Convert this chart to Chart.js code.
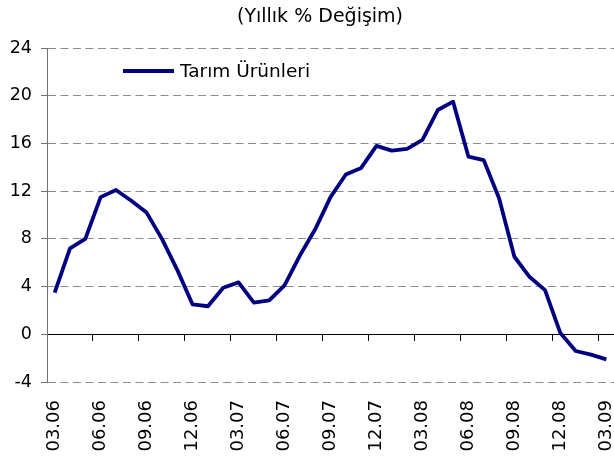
<!DOCTYPE html>
<html>
<head>
<meta charset="utf-8">
<script src="https://cdn.jsdelivr.net/npm/chart.js@4"></script>
<style>
html,body{margin:0;padding:0;background:#fff;}
#wrap{width:614px;height:456px;position:relative;}
</style>
</head>
<body>
<div id="wrap"><canvas id="c" width="614" height="456"></canvas></div>
<script>
const titleText = "(Yıllık % Değişim)";
const seriesName = "Tarım Ürünleri";
const months = ["03.06","04.06","05.06","06.06","07.06","08.06","09.06","10.06","11.06","12.06",
  "01.07","02.07","03.07","04.07","05.07","06.07","07.07","08.07","09.07","10.07","11.07","12.07",
  "01.08","02.08","03.08","04.08","05.08","06.08","07.08","08.08","09.08","10.08","11.08","12.08",
  "01.09","02.09","03.09"];
const values = [3.5,7.2,8.0,11.5,12.1,11.2,10.2,8.0,5.4,2.5,
  2.35,3.9,4.35,2.65,2.85,4.1,6.6,8.8,11.5,13.4,13.95,15.8,
  15.4,15.55,16.3,18.8,19.5,14.9,14.6,11.4,6.5,4.8,3.7,0.1,
  -1.4,-1.7,-2.1];
const yTicks = [-4,0,4,8,12,16,20,24];

const lineColor = '#000080';
const FONT = "'DejaVu Sans', sans-serif";

const overlay = {
  id: 'overlay',
  afterDraw(chart) {
    const ctx = chart.ctx;
    ctx.save();
    ctx.fillStyle = '#000';
    ctx.font = "19px " + FONT;
    ctx.textAlign = 'center';
    ctx.textBaseline = 'middle';
    ctx.fillText(titleText, 320, 17);
    ctx.strokeStyle = lineColor;
    ctx.lineWidth = 4;
    ctx.beginPath();
    ctx.moveTo(123, 71);
    ctx.lineTo(174, 71);
    ctx.stroke();
    ctx.font = "18.5px " + FONT;
    ctx.textAlign = 'left';
    ctx.fillText(chart.data.datasets[0].label, 180, 72);
    ctx.restore();
  }
};

new Chart(document.getElementById('c'), {
  type: 'line',
  data: {
    labels: months,
    datasets: [{
      label: seriesName,
      data: values,
      borderColor: lineColor,
      backgroundColor: lineColor,
      borderWidth: 3.8,
      pointRadius: 0,
      tension: 0,
      borderJoinStyle: 'round',
      fill: false
    }]
  },
  options: {
    responsive: false,
    animation: false,
    devicePixelRatio: 1,
    layout: { padding: { top: 48, right: 0, left: 0, bottom: 0 } },
    plugins: { legend: { display: false }, title: { display: false }, tooltip: { enabled: false } },
    scales: {
      x: {
        type: 'category',
        offset: true,
        grid: { display: false, drawTicks: false },
        border: { display: false },
        ticks: {
          autoSkip: false,
          minRotation: 90,
          maxRotation: 90,
          padding: 18,
          color: '#000',
          font: { family: FONT, size: 18 },
          callback: function(v, i) { return i % 3 === 0 ? months[i] : ''; }
        },
        afterFit(s) { s.height = 74; s.paddingLeft = 0; s.paddingRight = 0; }
      },
      x2: {
        type: 'category',
        position: { y: 0 },
        offset: true,
        grid: {
          offset: true,
          drawOnChartArea: false,
          drawTicks: true,
          tickLength: 6,
          color: (c) => (c.index % 3 === 0 ? '#000' : 'rgba(0,0,0,0)'),
          tickColor: (c) => (c.index % 3 === 0 ? '#000' : 'rgba(0,0,0,0)'),
          tickWidth: 1
        },
        border: { display: true, color: '#000', width: 1 },
        ticks: { display: false, autoSkip: false }
      },
      y: {
        min: -4,
        max: 24,
        afterBuildTicks(s) { s.ticks = yTicks.map(v => ({ value: v })); },
        grid: {
          color: (c) => (c.tick && c.tick.value === 0 ? 'rgba(0,0,0,0)' : '#8c8c8c'),
          lineWidth: 1,
          drawTicks: true,
          tickLength: 6,
          tickColor: '#707070',
          tickBorderDash: []
        },
        border: { display: true, color: '#707070', width: 1, dash: [8, 4.5] },
        ticks: {
          padding: 9,
          color: '#000',
          font: { family: FONT, size: 17.5 }
        },
        afterFit(s) { s.width = 47; s.paddingTop = 0; s.paddingBottom = 0; }
      }
    }
  },
  plugins: [overlay]
});
</script>
</body>
</html>
